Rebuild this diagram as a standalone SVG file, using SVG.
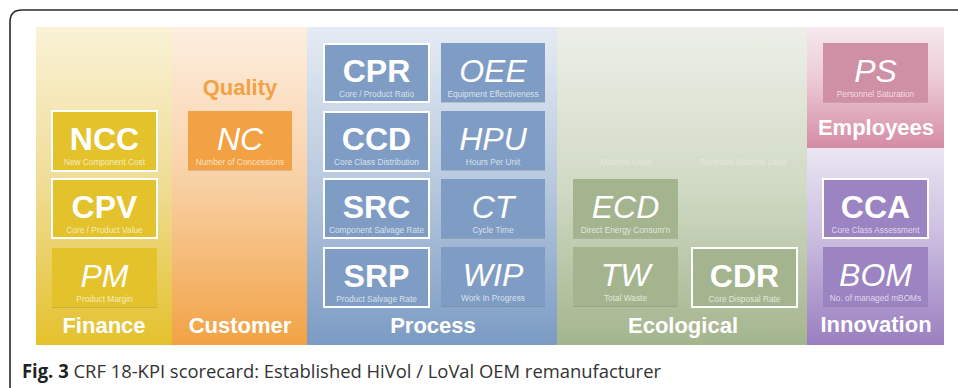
<svg xmlns="http://www.w3.org/2000/svg" width="958" height="388" viewBox="0 0 958 388">
<defs>
<linearGradient id="gFin" x1="0" y1="0" x2="0" y2="1"><stop offset="0" stop-color="#f9f2d6"/><stop offset="0.5" stop-color="#f0dc95"/><stop offset="1" stop-color="#e4c12c"/></linearGradient>
<linearGradient id="gCus" x1="0" y1="0" x2="0" y2="1"><stop offset="0" stop-color="#fdeee0"/><stop offset="0.5" stop-color="#f8cfa3"/><stop offset="1" stop-color="#f2a244"/></linearGradient>
<linearGradient id="gPro" x1="0" y1="0" x2="0" y2="1"><stop offset="0" stop-color="#e5ebf4"/><stop offset="0.5" stop-color="#b7c8de"/><stop offset="1" stop-color="#7b9bc4"/></linearGradient>
<linearGradient id="gEco" x1="0" y1="0" x2="0" y2="1"><stop offset="0" stop-color="#edefe8"/><stop offset="0.5" stop-color="#d1dac5"/><stop offset="1" stop-color="#a3b58d"/></linearGradient>
<linearGradient id="gEmp" x1="0" y1="0" x2="0" y2="1"><stop offset="0" stop-color="#f6e8ee"/><stop offset="0.45" stop-color="#ecc9d5"/><stop offset="1" stop-color="#d48ba3"/></linearGradient>
<linearGradient id="gInn" x1="0" y1="0" x2="0" y2="1"><stop offset="0" stop-color="#eae6f2"/><stop offset="0.45" stop-color="#cbbde0"/><stop offset="1" stop-color="#9a7ec0"/></linearGradient>
</defs>
<style>
.frame{fill:none;stroke:#2a2a2a;stroke-width:1.6}
.shadow{fill:#000;opacity:0.12}
.bd{stroke:#ffffff;stroke-width:2}
.ac{font-family:"Liberation Sans",Arial,sans-serif;font-size:32px;fill:#ffffff;text-anchor:middle}
.b{font-weight:bold}
.i{font-style:italic}
.sub{font-family:"Liberation Sans",Arial,sans-serif;font-size:8.3px;fill:#ffffff;fill-opacity:0.7;text-anchor:middle}
.faint{font-family:"Liberation Sans",Arial,sans-serif;font-size:8.3px;fill:#ffffff;fill-opacity:0.35;text-anchor:middle}
.lab{font-family:"Liberation Sans",Arial,sans-serif;font-size:22px;font-weight:bold;fill:#ffffff;text-anchor:middle}
.cap{font-family:"Open Sans","Noto Sans",sans-serif;font-size:19px;fill:#333333}
.fin{fill:#e4c22b}.cus{fill:#f2a244}.pro{fill:#7f9dc4}.eco{fill:#a4b48e}.emp{fill:#cf8fa4}.inn{fill:#9c83c2}
</style>
<path class="frame" d="M10,388 L10,22 Q10,10 22,10 L958,10"/>
<g id="columns">
<rect x="36" y="27" width="136" height="318" fill="url(#gFin)"/>
<rect x="172" y="27" width="135" height="318" fill="url(#gCus)"/>
<rect x="307" y="27" width="250" height="318" fill="url(#gPro)"/>
<rect x="557" y="27" width="250" height="318" fill="url(#gEco)"/>
<rect x="807" y="27" width="137" height="121" fill="url(#gEmp)"/>
<rect x="807" y="148" width="137" height="197" fill="url(#gInn)"/>
</g>
<g id="NCC"><rect class="fin bd" x="52" y="111" width="105" height="60"/><text class="ac b" x="104.5" y="149.5">NCC</text><text class="sub" x="104.5" y="165">New Component Cost</text></g>
<g id="CPV"><rect class="fin bd" x="52" y="179" width="105" height="59"/><text class="ac b" x="104.5" y="217.5">CPV</text><text class="sub" x="104.5" y="233">Core / Product Value</text></g>
<g id="PM"><rect class="shadow" x="52" y="249" width="105" height="59"/><rect class="fin" x="52" y="248" width="105" height="59"/><text class="ac i" x="104.5" y="286.5">PM</text><text class="sub" x="104.5" y="302">Product Margin</text></g>
<text class="lab" x="104" y="333">Finance</text>
<text class="lab" x="240" y="95" style="fill:#f2a244">Quality</text>
<g id="NC"><rect class="shadow" x="188" y="112" width="104" height="59"/><rect class="cus" x="188" y="111" width="104" height="59"/><text class="ac i" x="240" y="149.5">NC</text><text class="sub" x="240" y="165">Number of Concessions</text></g>
<text class="lab" x="240" y="333">Customer</text>
<g id="CPR"><rect class="pro bd" x="324" y="44" width="105" height="58"/><text class="ac b" x="376.5" y="81.5">CPR</text><text class="sub" x="376.5" y="97">Core / Product Ratio</text></g>
<g id="OEE"><rect class="shadow" x="441" y="44" width="104" height="59"/><rect class="pro" x="441" y="43" width="104" height="59"/><text class="ac i" x="493" y="81.5">OEE</text><text class="sub" x="493" y="97">Equipment Effectiveness</text></g>
<g id="CCD"><rect class="pro bd" x="324" y="112" width="105" height="59"/><text class="ac b" x="376.5" y="149.5">CCD</text><text class="sub" x="376.5" y="165">Core Class Distribution</text></g>
<g id="HPU"><rect class="shadow" x="441" y="112" width="104" height="59"/><rect class="pro" x="441" y="111" width="104" height="59"/><text class="ac i" x="493" y="149.5">HPU</text><text class="sub" x="493" y="165">Hours Per Unit</text></g>
<g id="SRC"><rect class="pro bd" x="324" y="179" width="105" height="59"/><text class="ac b" x="376.5" y="217.5">SRC</text><text class="sub" x="376.5" y="233">Component Salvage Rate</text></g>
<g id="CT"><rect class="shadow" x="441" y="180" width="104" height="59"/><rect class="pro" x="441" y="179" width="104" height="59"/><text class="ac i" x="493" y="217.5">CT</text><text class="sub" x="493" y="233">Cycle Time</text></g>
<g id="SRP"><rect class="pro bd" x="324" y="248" width="105" height="59"/><text class="ac b" x="376.5" y="286.5">SRP</text><text class="sub" x="376.5" y="302">Product Salvage Rate</text></g>
<g id="WIP"><rect class="shadow" x="441" y="248" width="104" height="59"/><rect class="pro" x="441" y="247" width="104" height="59"/><text class="ac i" x="493" y="285.5">WIP</text><text class="sub" x="493" y="301">Work In Progress</text></g>
<text class="lab" x="433" y="333">Process</text>
<text class="faint" x="626" y="165">Material Used</text>
<text class="faint" x="743" y="165">Recycled Material Used</text>
<g id="ECD"><rect class="shadow" x="573" y="180" width="105" height="59"/><rect class="eco" x="573" y="179" width="105" height="59"/><text class="ac i" x="625.5" y="217.5">ECD</text><text class="sub" x="625.5" y="233">Direct Energy Consum'n</text></g>
<g id="TW"><rect class="shadow" x="573" y="248" width="105" height="59"/><rect class="eco" x="573" y="247" width="105" height="59"/><text class="ac i" x="625.5" y="285.5">TW</text><text class="sub" x="625.5" y="301">Total Waste</text></g>
<g id="CDR"><rect class="eco bd" x="692" y="248" width="105" height="59"/><text class="ac b" x="744.5" y="286.5">CDR</text><text class="sub" x="744.5" y="302">Core Disposal Rate</text></g>
<text class="lab" x="683" y="333">Ecological</text>
<g id="PS"><rect class="shadow" x="823" y="44" width="105" height="59"/><rect class="emp" x="823" y="43" width="105" height="59"/><text class="ac i" x="875.5" y="81.5">PS</text><text class="sub" x="875.5" y="97">Personnel Saturation</text></g>
<text class="lab" x="876" y="135">Employees</text>
<g id="CCA"><rect class="inn bd" x="823" y="179" width="105" height="59"/><text class="ac b" x="875.5" y="217.5">CCA</text><text class="sub" x="875.5" y="233">Core Class Assessment</text></g>
<g id="BOM"><rect class="shadow" x="823" y="248" width="105" height="59"/><rect class="inn" x="823" y="247" width="105" height="59"/><text class="ac i" x="875.5" y="285.5">BOM</text><text class="sub" x="875.5" y="301">No. of managed mBOMs</text></g>
<text class="lab" x="876" y="332">Innovation</text>
<text class="cap" x="22" y="378" textLength="639" lengthAdjust="spacingAndGlyphs"><tspan font-weight="bold" fill="#222">Fig. 3</tspan> CRF 18-KPI scorecard: Established HiVol / LoVal OEM remanufacturer</text>
</svg>
